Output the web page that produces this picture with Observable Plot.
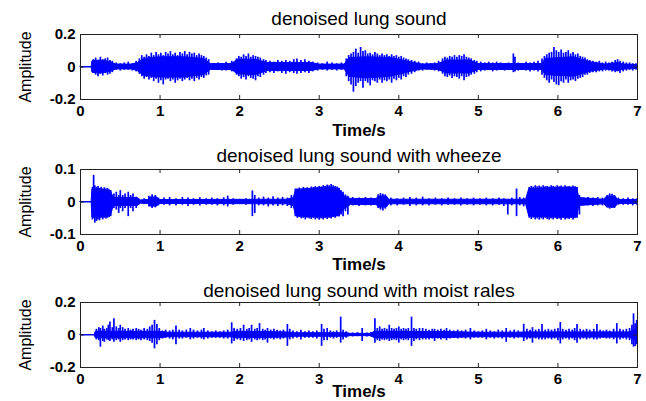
<!DOCTYPE html>
<html>
<head>
<meta charset="utf-8">
<script src="https://cdn.jsdelivr.net/npm/d3@7"></script>
<script src="https://cdn.jsdelivr.net/npm/@observablehq/plot@0.6"></script>
<style>
  html, body { margin: 0; padding: 0; background: #fff; }
  #chart { width: 646px; height: 401px; overflow: hidden; }
  #chart svg { display: block; overflow: visible; }
</style>
</head>
<body>
<div id="chart"></div>
<script>
// ---------- shared axis data ----------
const titles = [
  "denoised lung sound",
  "denoised lung sound with wheeze",
  "denoised lung sound with moist rales"
];
const xLabel = "Time/s";
const yLabel = "Amplitude";
const xTicks = [0, 1, 2, 3, 4, 5, 6, 7];
const yTicks1 = [0.2, 0, -0.2];
const yTickLabels1 = ["0.2", "0", "-0.2"];
const yTicks2 = [0.1, 0, -0.1];
const yTickLabels2 = ["0.1", "0", "-0.1"];
const yTicks3 = [0.2, 0, -0.2];
const yTickLabels3 = ["0.2", "0", "-0.2"];

// ---------- panel 1: normal lung sound ----------
// dense core of the waveform: [time, upper, lower magnitude]
const normalEnvelope = [
  [0,0,0],[0.14,0,0],[0.15,0.035,0.035],[0.25,0.04,0.04],[0.38,0.03,0.03],[0.45,0.015,0.015],
  [0.65,0.015,0.015],[0.72,0.025,0.025],[0.8,0.05,0.055],[1.0,0.06,0.065],[1.3,0.06,0.065],
  [1.55,0.05,0.05],[1.64,0.018,0.018],[1.9,0.018,0.018],[1.98,0.045,0.045],[2.2,0.045,0.05],
  [2.35,0.025,0.025],[2.9,0.025,0.025],[3.0,0.015,0.015],[3.32,0.015,0.015],[3.38,0.055,0.06],
  [3.6,0.06,0.07],[3.9,0.055,0.06],[4.15,0.03,0.03],[4.3,0.015,0.015],[4.5,0.018,0.018],
  [4.6,0.04,0.04],[4.9,0.04,0.04],[5.0,0.018,0.018],[5.8,0.018,0.018],[5.85,0.05,0.05],
  [6.2,0.06,0.06],[6.4,0.03,0.03],[6.6,0.015,0.015],[6.75,0.025,0.025],[6.85,0.015,0.015],
  [7.0,0.012,0.012]
];
// individual peaks: [time, top, bottom]
const normalSpikes = [
  [0.16,0.045,-0.04],[0.19,0.055,-0.05],[0.22,0.04,-0.06],[0.25,0.06,-0.045],[0.28,0.045,-0.055],
  [0.31,0.05,-0.04],[0.34,0.055,-0.05],[0.37,0.04,-0.045],[0.4,0.035,-0.035],
  [0.45,0.025,-0.02],[0.5,0.02,-0.025],[0.55,0.025,-0.02],[0.6,0.03,-0.02],[0.65,0.02,-0.025],[0.7,0.035,-0.03],
  [0.74,0.05,-0.045],[0.77,0.07,-0.06],[0.8,0.06,-0.075],[0.83,0.075,-0.065],[0.86,0.065,-0.08],
  [0.89,0.085,-0.07],[0.92,0.07,-0.09],[0.95,0.09,-0.075],[0.98,0.075,-0.1],[1.01,0.085,-0.085],
  [1.04,0.07,-0.11],[1.07,0.09,-0.08],[1.1,0.08,-0.075],[1.13,0.095,-0.09],[1.16,0.075,-0.08],
  [1.19,0.085,-0.1],[1.22,0.07,-0.085],[1.25,0.09,-0.075],[1.28,0.08,-0.09],[1.31,0.095,-0.08],
  [1.34,0.075,-0.07],[1.37,0.09,-0.085],[1.4,0.08,-0.075],[1.43,0.085,-0.09],[1.46,0.07,-0.07],
  [1.49,0.08,-0.08],[1.52,0.07,-0.065],[1.55,0.065,-0.07],[1.58,0.055,-0.055],[1.61,0.045,-0.05],
  [1.68,0.02,-0.02],[1.73,0.025,-0.02],[1.78,0.02,-0.025],[1.83,0.03,-0.025],[1.9,0.035,-0.03],
  [1.96,0.05,-0.05],[1.99,0.065,-0.06],[2.02,0.06,-0.075],[2.05,0.075,-0.065],[2.08,0.065,-0.08],
  [2.11,0.08,-0.06],[2.14,0.06,-0.07],[2.17,0.07,-0.075],[2.2,0.065,-0.085],[2.23,0.06,-0.06],
  [2.26,0.055,-0.065],[2.3,0.045,-0.05],[2.33,0.04,-0.04],
  [2.38,0.035,-0.035],[2.43,0.03,-0.04],[2.48,0.04,-0.03],[2.53,0.035,-0.04],[2.58,0.04,-0.045],
  [2.63,0.035,-0.035],[2.68,0.045,-0.04],[2.72,0.05,-0.045],[2.77,0.04,-0.04],[2.82,0.045,-0.035],
  [2.87,0.035,-0.04],[2.92,0.03,-0.03],
  [2.98,0.025,-0.025],[3.04,0.02,-0.02],[3.1,0.03,-0.025],[3.16,0.025,-0.02],[3.22,0.02,-0.025],[3.28,0.025,-0.02],
  [3.34,0.05,-0.06],[3.37,0.07,-0.09],[3.4,0.08,-0.11],[3.43,0.09,-0.155],[3.46,0.11,-0.12],
  [3.49,0.085,-0.1],[3.52,0.12,-0.09],[3.55,0.095,-0.13],[3.58,0.1,-0.09],[3.61,0.08,-0.1],
  [3.64,0.085,-0.115],[3.67,0.075,-0.085],[3.7,0.09,-0.09],[3.73,0.08,-0.1],[3.76,0.07,-0.08],
  [3.79,0.08,-0.1],[3.82,0.07,-0.085],[3.85,0.075,-0.09],[3.88,0.065,-0.08],[3.91,0.075,-0.1],
  [3.94,0.065,-0.075],[3.97,0.07,-0.085],[4.0,0.06,-0.07],[4.03,0.065,-0.08],[4.06,0.055,-0.06],
  [4.09,0.05,-0.065],[4.12,0.045,-0.05],[4.16,0.04,-0.045],[4.2,0.035,-0.035],
  [4.25,0.03,-0.025],[4.3,0.02,-0.025],[4.35,0.025,-0.02],[4.4,0.02,-0.02],[4.45,0.025,-0.025],[4.5,0.035,-0.03],
  [4.55,0.05,-0.045],[4.58,0.06,-0.06],[4.61,0.055,-0.065],[4.64,0.065,-0.055],[4.67,0.06,-0.07],
  [4.7,0.07,-0.06],[4.73,0.06,-0.065],[4.76,0.07,-0.075],[4.79,0.065,-0.06],[4.82,0.075,-0.085],
  [4.85,0.06,-0.065],[4.88,0.055,-0.06],[4.91,0.05,-0.05],[4.95,0.04,-0.045],[4.98,0.035,-0.035],
  [5.03,0.03,-0.03],[5.08,0.025,-0.025],[5.13,0.03,-0.02],[5.18,0.025,-0.03],[5.23,0.03,-0.025],
  [5.28,0.025,-0.02],[5.33,0.02,-0.025],[5.38,0.025,-0.02],[5.44,0.08,-0.035],[5.46,0.06,-0.03],
  [5.5,0.025,-0.025],[5.55,0.02,-0.02],[5.6,0.03,-0.025],[5.65,0.025,-0.03],[5.7,0.03,-0.025],[5.75,0.035,-0.03],
  [5.8,0.05,-0.05],[5.83,0.065,-0.07],[5.86,0.075,-0.085],[5.89,0.085,-0.1],[5.92,0.09,-0.08],
  [5.95,0.12,-0.095],[5.98,0.1,-0.11],[6.01,0.09,-0.115],[6.04,0.105,-0.09],[6.07,0.085,-0.1],
  [6.1,0.09,-0.08],[6.13,0.1,-0.1],[6.16,0.08,-0.085],[6.19,0.09,-0.08],[6.22,0.075,-0.09],
  [6.25,0.08,-0.075],[6.28,0.065,-0.07],[6.31,0.06,-0.065],[6.34,0.055,-0.05],[6.37,0.045,-0.05],[6.4,0.04,-0.04],
  [6.44,0.035,-0.035],[6.48,0.03,-0.035],[6.52,0.035,-0.03],[6.56,0.025,-0.03],[6.6,0.03,-0.025],
  [6.64,0.025,-0.025],[6.68,0.03,-0.03],[6.72,0.04,-0.035],[6.75,0.045,-0.03],[6.78,0.035,-0.04],
  [6.82,0.03,-0.03],[6.86,0.025,-0.025],[6.9,0.025,-0.02],[6.94,0.02,-0.025],[6.98,0.02,-0.02]
];

// ---------- panel 2: wheeze ----------
const wheezeEnvelope = [
  [0,0,0],[0.14,0,0],[0.15,0.038,0.048],[0.25,0.038,0.048],[0.38,0.033,0.043],[0.42,0.012,0.012],
  [0.72,0.012,0.012],[0.76,0.005,0.005],[0.85,0.006,0.006],[0.88,0.014,0.014],[0.96,0.014,0.014],
  [1.0,0.006,0.006],[2.6,0.007,0.007],[2.68,0.012,0.012],[2.71,0.037,0.044],[2.9,0.04,0.047],
  [3.1,0.045,0.048],[3.25,0.04,0.043],[3.32,0.017,0.022],[3.4,0.009,0.009],[3.72,0.009,0.009],
  [3.75,0.017,0.017],[3.85,0.017,0.017],[3.88,0.007,0.007],[5.6,0.007,0.007],[5.64,0.04,0.045],
  [6.0,0.043,0.048],[6.24,0.043,0.048],[6.27,0.012,0.012],[6.58,0.007,0.007],[6.62,0.017,0.017],
  [6.72,0.017,0.017],[6.76,0.006,0.006],[7.0,0.006,0.006]
];
const wheezeSpikes = [
  [0.15,0.045,-0.055],[0.165,0.082,-0.05],[0.18,0.05,-0.065],[0.2,0.045,-0.06],[0.22,0.048,-0.055],
  [0.24,0.042,-0.058],[0.26,0.045,-0.05],[0.28,0.04,-0.055],[0.3,0.044,-0.05],[0.32,0.04,-0.052],
  [0.34,0.042,-0.05],[0.36,0.038,-0.048],[0.38,0.035,-0.045],
  [0.42,0.025,-0.02],[0.45,0.03,-0.025],[0.48,0.02,-0.035],[0.5,0.035,-0.02],[0.53,0.02,-0.03],
  [0.56,0.025,-0.02],[0.6,0.03,-0.045],[0.63,0.02,-0.02],[0.66,0.025,-0.03],[0.7,0.015,-0.02],
  [0.8,0.01,-0.008],[0.86,0.018,-0.015],[0.9,0.022,-0.02],[0.94,0.02,-0.018],[0.98,0.012,-0.012],
  [1.05,0.012,-0.01],[1.12,0.014,-0.012],[1.2,0.01,-0.012],[1.28,0.014,-0.01],[1.35,0.012,-0.014],
  [1.42,0.01,-0.01],[1.5,0.013,-0.012],[1.58,0.01,-0.01],[1.65,0.012,-0.01],[1.72,0.01,-0.012],
  [1.8,0.013,-0.012],[1.85,0.018,-0.015],[1.92,0.01,-0.01],[2.0,0.008,-0.008],[2.08,0.01,-0.01],
  [2.16,0.034,-0.045],[2.19,0.02,-0.035],[2.24,0.012,-0.012],[2.3,0.015,-0.012],[2.36,0.012,-0.015],
  [2.42,0.016,-0.012],[2.48,0.012,-0.014],[2.54,0.014,-0.012],[2.6,0.012,-0.014],[2.65,0.02,-0.02],
  [2.7,0.04,-0.045],[2.725,0.04,-0.05],[2.75,0.043,-0.048],[2.775,0.04,-0.052],[2.8,0.045,-0.05],
  [2.825,0.042,-0.055],[2.85,0.044,-0.05],[2.875,0.042,-0.052],[2.9,0.046,-0.054],[2.925,0.044,-0.05],
  [2.95,0.047,-0.055],[2.975,0.045,-0.052],[3.0,0.048,-0.056],[3.025,0.046,-0.052],[3.05,0.05,-0.055],
  [3.075,0.048,-0.05],[3.1,0.052,-0.054],[3.125,0.05,-0.05],[3.15,0.054,-0.052],[3.175,0.05,-0.048],
  [3.2,0.048,-0.05],[3.225,0.046,-0.045],[3.25,0.042,-0.046],[3.275,0.035,-0.04],[3.3,0.03,-0.045],
  [3.33,0.022,-0.03],[3.36,0.018,-0.04],
  [3.42,0.014,-0.012],[3.5,0.012,-0.014],[3.58,0.014,-0.012],[3.65,0.012,-0.012],[3.74,0.022,-0.02],
  [3.77,0.026,-0.025],[3.8,0.024,-0.028],[3.83,0.022,-0.022],[3.9,0.012,-0.012],[3.98,0.01,-0.012],
  [4.06,0.012,-0.01],[4.14,0.014,-0.014],[4.22,0.012,-0.012],[4.3,0.015,-0.012],[4.38,0.01,-0.012],
  [4.46,0.012,-0.01],[4.54,0.01,-0.012],[4.62,0.012,-0.01],[4.7,0.01,-0.01],[4.78,0.012,-0.012],
  [4.86,0.01,-0.01],[4.94,0.012,-0.012],[5.02,0.01,-0.01],[5.1,0.012,-0.012],[5.18,0.01,-0.012],
  [5.26,0.012,-0.01],[5.32,0.01,-0.014],[5.37,0.005,-0.04],[5.42,0.012,-0.012],[5.48,0.04,-0.045],
  [5.52,0.014,-0.012],[5.57,0.012,-0.015],
  [5.64,0.045,-0.05],[5.665,0.048,-0.054],[5.69,0.046,-0.05],[5.715,0.05,-0.055],[5.74,0.047,-0.052],
  [5.765,0.049,-0.056],[5.79,0.046,-0.052],[5.815,0.05,-0.055],[5.84,0.047,-0.05],[5.865,0.048,-0.054],
  [5.89,0.046,-0.056],[5.915,0.05,-0.052],[5.94,0.048,-0.055],[5.965,0.046,-0.05],[5.99,0.05,-0.054],
  [6.015,0.047,-0.052],[6.04,0.049,-0.056],[6.065,0.046,-0.05],[6.09,0.05,-0.055],[6.115,0.047,-0.052],
  [6.14,0.048,-0.054],[6.165,0.046,-0.05],[6.19,0.049,-0.055],[6.215,0.047,-0.05],[6.24,0.045,-0.05],
  [6.27,0.02,-0.04],
  [6.32,0.012,-0.012],[6.38,0.014,-0.012],[6.44,0.012,-0.014],[6.5,0.014,-0.012],[6.56,0.012,-0.012],
  [6.62,0.02,-0.018],[6.65,0.025,-0.022],[6.68,0.024,-0.02],[6.71,0.02,-0.02],[6.76,0.012,-0.01],
  [6.82,0.01,-0.01],[6.88,0.012,-0.01],[6.94,0.01,-0.012],[6.99,0.01,-0.01]
];

// ---------- panel 3: moist rales ----------
const ralesEnvelope = [
  [0,0,0],[0.18,0,0],[0.19,0.02,0.02],[1.0,0.02,0.02],[1.1,0.014,0.014],[1.9,0.014,0.014],
  [1.95,0.02,0.02],[2.6,0.016,0.016],[2.7,0.011,0.011],[3.35,0.011,0.011],[3.4,0.007,0.007],
  [3.65,0.007,0.007],[3.7,0.02,0.02],[4.6,0.018,0.018],[5.0,0.014,0.014],[5.5,0.014,0.014],
  [5.6,0.016,0.016],[6.9,0.016,0.016],[7.0,0.035,0.035]
];
const ralesSpikes = [
  [0.2,0.035,-0.03],[0.23,0.045,-0.035],[0.25,0.04,-0.075],[0.28,0.055,-0.04],[0.3,0.035,-0.045],
  [0.33,0.04,-0.03],[0.35,0.06,-0.035],[0.37,0.08,-0.04],[0.4,0.045,-0.03],[0.42,0.1,-0.045],
  [0.45,0.05,-0.035],[0.48,0.04,-0.03],[0.5,0.06,-0.045],[0.53,0.045,-0.035],[0.56,0.035,-0.03],
  [0.6,0.04,-0.035],[0.63,0.03,-0.03],[0.66,0.035,-0.03],[0.7,0.04,-0.035],[0.73,0.035,-0.03],
  [0.76,0.03,-0.035],[0.8,0.04,-0.03],[0.84,0.035,-0.035],[0.87,0.05,-0.04],[0.9,0.06,-0.05],
  [0.93,0.09,-0.085],[0.96,0.065,-0.06],[0.99,0.04,-0.035],
  [1.03,0.025,-0.025],[1.07,0.03,-0.02],[1.12,0.025,-0.025],[1.16,0.03,-0.03],[1.2,0.055,-0.06],
  [1.24,0.03,-0.025],[1.28,0.025,-0.025],[1.33,0.03,-0.02],[1.38,0.04,-0.03],[1.42,0.03,-0.025],
  [1.47,0.025,-0.02],[1.52,0.03,-0.025],[1.55,0.04,-0.03],[1.6,0.025,-0.025],[1.65,0.02,-0.02],
  [1.7,0.025,-0.02],[1.75,0.02,-0.02],[1.8,0.025,-0.025],[1.85,0.03,-0.025],
  [1.9,0.075,-0.055],[1.93,0.04,-0.04],[1.97,0.035,-0.03],[2.01,0.04,-0.035],[2.05,0.06,-0.04],
  [2.09,0.035,-0.035],[2.12,0.04,-0.03],[2.15,0.06,-0.045],[2.19,0.035,-0.03],[2.22,0.04,-0.035],
  [2.25,0.07,-0.03],[2.29,0.035,-0.035],[2.32,0.03,-0.03],[2.35,0.04,-0.05],[2.39,0.03,-0.025],
  [2.43,0.035,-0.03],[2.47,0.03,-0.025],[2.51,0.025,-0.03],[2.55,0.03,-0.025],[2.6,0.065,-0.07],
  [2.63,0.035,-0.03],[2.67,0.025,-0.025],
  [2.72,0.02,-0.02],[2.77,0.03,-0.03],[2.82,0.02,-0.02],[2.87,0.025,-0.02],[2.92,0.02,-0.02],
  [2.97,0.025,-0.025],[3.03,0.065,-0.07],[3.06,0.035,-0.035],[3.1,0.04,-0.035],[3.14,0.025,-0.02],
  [3.18,0.02,-0.025],[3.22,0.025,-0.02],[3.27,0.11,-0.05],[3.3,0.03,-0.03],[3.34,0.02,-0.02],
  [3.42,0.012,-0.012],[3.48,0.015,-0.01],[3.54,0.04,-0.04],[3.6,0.012,-0.012],[3.65,0.015,-0.012],
  [3.7,0.1,-0.05],[3.73,0.04,-0.035],[3.76,0.05,-0.04],[3.79,0.035,-0.03],[3.82,0.04,-0.035],
  [3.85,0.035,-0.03],[3.88,0.06,-0.04],[3.91,0.04,-0.035],[3.94,0.035,-0.03],[3.97,0.04,-0.035],
  [4.0,0.05,-0.05],[4.03,0.035,-0.03],[4.06,0.04,-0.035],[4.09,0.035,-0.03],[4.12,0.04,-0.035],
  [4.16,0.11,-0.07],[4.19,0.04,-0.04],[4.22,0.035,-0.03],[4.26,0.04,-0.035],[4.3,0.04,-0.03],
  [4.34,0.035,-0.03],[4.38,0.03,-0.03],[4.42,0.035,-0.025],[4.45,0.035,-0.04],[4.49,0.03,-0.025],
  [4.53,0.035,-0.03],[4.57,0.03,-0.025],[4.6,0.04,-0.035],[4.64,0.03,-0.025],
  [4.69,0.025,-0.02],[4.74,0.03,-0.025],[4.79,0.025,-0.02],[4.84,0.03,-0.025],[4.9,0.04,-0.03],
  [4.95,0.025,-0.02],[5.0,0.02,-0.02],[5.05,0.025,-0.02],[5.1,0.035,-0.03],[5.15,0.025,-0.02],
  [5.2,0.02,-0.025],[5.25,0.03,-0.02],[5.3,0.025,-0.025],[5.35,0.04,-0.045],[5.4,0.025,-0.02],
  [5.45,0.03,-0.025],[5.5,0.025,-0.02],
  [5.57,0.066,-0.04],[5.61,0.035,-0.03],[5.65,0.03,-0.025],[5.68,0.045,-0.05],[5.72,0.03,-0.025],
  [5.76,0.035,-0.03],[5.8,0.065,-0.03],[5.84,0.03,-0.03],[5.88,0.035,-0.025],[5.92,0.03,-0.03],
  [5.96,0.035,-0.025],[6.0,0.04,-0.035],[6.03,0.077,-0.055],[6.06,0.035,-0.03],[6.1,0.03,-0.025],
  [6.14,0.035,-0.03],[6.18,0.03,-0.025],[6.21,0.04,-0.035],[6.24,0.065,-0.05],[6.28,0.035,-0.03],
  [6.32,0.03,-0.025],[6.36,0.035,-0.03],[6.4,0.03,-0.025],[6.45,0.035,-0.03],[6.49,0.065,-0.03],
  [6.53,0.03,-0.025],[6.57,0.025,-0.02],[6.61,0.03,-0.025],[6.65,0.025,-0.025],[6.7,0.035,-0.03],
  [6.74,0.07,-0.055],[6.78,0.035,-0.03],[6.82,0.03,-0.025],[6.86,0.035,-0.03],[6.9,0.04,-0.035],
  [6.93,0.06,-0.06],[6.95,0.13,-0.075],[6.97,0.07,-0.07],[6.99,0.09,-0.06]
];

// ---------- drawing ----------
const BLUE = "#0000ff";
const FONT = "'Liberation Sans', Arial, Helvetica, sans-serif";

function panel({title, env, spikes, yDomain, yTicks, yTickLabels, height, marginTop, marginBottom, titleDy, tickDy, labelDy}) {
  const frameH = height - marginTop - marginBottom;
  const frameW = 646 - 80 - 9;
  return Plot.plot({
    width: 646,
    height,
    marginLeft: 80,
    marginRight: 9,
    marginTop,
    marginBottom,
    style: {fontFamily: FONT, background: "white", color: "black"},
    x: {domain: [0, 7], axis: null},
    y: {domain: yDomain, axis: null},
    marks: [
      Plot.ruleY([0], {stroke: BLUE, strokeWidth: 1}),
      Plot.areaY(env, {x: d => d[0], y1: d => -d[2], y2: d => d[1], fill: BLUE, stroke: BLUE, strokeWidth: 1}),
      Plot.ruleX(spikes, {x: d => d[0], y1: d => d[2], y2: d => d[1], stroke: BLUE, strokeWidth: 1.7}),
      Plot.frame({stroke: "#222", strokeWidth: 1}),
      Plot.tickX(xTicks, {x: d => d, insetTop: frameH - 4, stroke: "#222"}),
      Plot.tickX(xTicks, {x: d => d, insetBottom: frameH - 4, stroke: "#222"}),
      Plot.tickY(yTicks, {y: d => d, insetRight: frameW - 4, stroke: "#222"}),
      Plot.tickY(yTicks, {y: d => d, insetLeft: frameW - 4, stroke: "#222"}),
      Plot.text(xTicks, {x: d => d, text: d => String(d), frameAnchor: "bottom", dy: tickDy, lineAnchor: "middle", fontSize: 15, fontWeight: "bold", fill: "black"}),
      Plot.text(yTicks, {y: d => d, text: (d, i) => yTickLabels[i], frameAnchor: "left", dx: -5, textAnchor: "end", fontSize: 15, fontWeight: "bold", fill: "black"}),
      Plot.text([title], {text: d => d, frameAnchor: "top", dy: titleDy, lineAnchor: "middle", fontSize: 19, fill: "black"}),
      Plot.text([xLabel], {text: d => d, frameAnchor: "bottom", dy: labelDy, lineAnchor: "middle", fontSize: 17, fontWeight: "bold", fill: "black"}),
      Plot.text([yLabel], {text: d => d, frameAnchor: "left", dx: -55, rotate: -90, textAnchor: "middle", lineAnchor: "middle", fontSize: 16, fill: "black"})
    ]
  });
}

const chart = document.getElementById("chart");
chart.append(panel({title: titles[0], env: normalEnvelope, spikes: normalSpikes, yDomain: [-0.2, 0.2], yTicks: yTicks1, yTickLabels: yTickLabels1, height: 134, marginTop: 34, marginBottom: 35, titleDy: -16, tickDy: 12, labelDy: 31}));
chart.append(panel({title: titles[1], env: wheezeEnvelope, spikes: wheezeSpikes, yDomain: [-0.1, 0.1], yTicks: yTicks2, yTickLabels: yTickLabels2, height: 135, marginTop: 35, marginBottom: 35, titleDy: -14, tickDy: 12, labelDy: 30}));
chart.append(panel({title: titles[2], env: ralesEnvelope, spikes: ralesSpikes, yDomain: [-0.2, 0.2], yTicks: yTicks3, yTickLabels: yTickLabels3, height: 132, marginTop: 33, marginBottom: 34, titleDy: -12, tickDy: 12, labelDy: 24}));
</script>
</body>
</html>
